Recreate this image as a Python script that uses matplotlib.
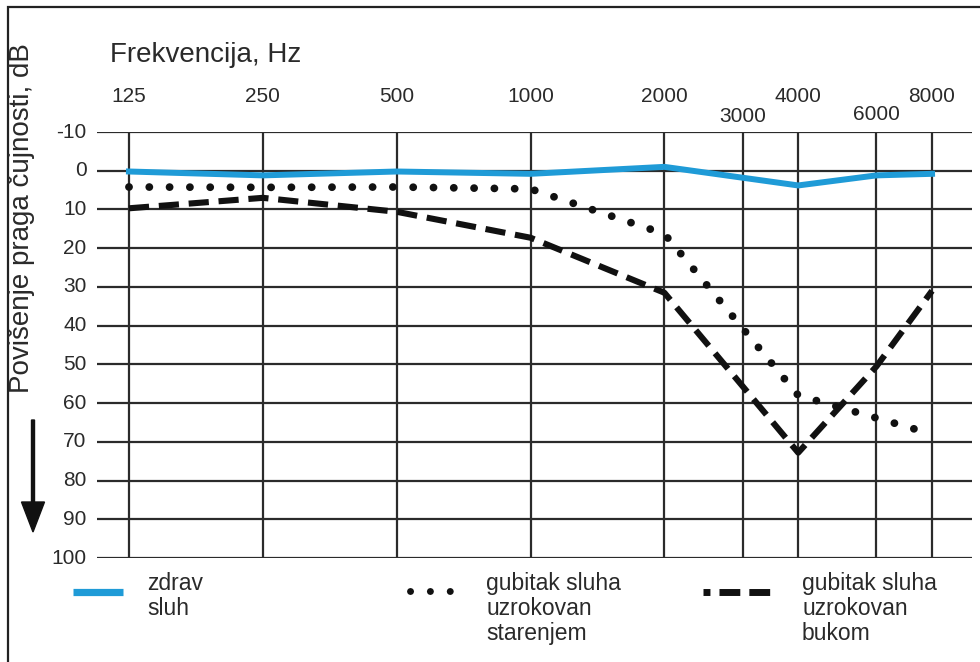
import matplotlib
matplotlib.use("Agg")
import matplotlib.pyplot as plt
from matplotlib.lines import Line2D
from matplotlib.patches import FancyArrow, Rectangle

plt.rcParams['font.family'] = ['Liberation Sans', 'DejaVu Sans']

# ---- data ----
freqs = [125, 250, 500, 1000, 2000, 3000, 4000, 6000, 8000]
freq_labels = ['125', '250', '500', '1000', '2000', '3000', '4000', '6000', '8000']
db_ticks = [-10, 0, 10, 20, 30, 40, 50, 60, 70, 80, 90, 100]

healthy_f = [125, 250, 500, 1000, 2000, 4000, 6000, 8000]
healthy_db = [0.2, 1.2, 0.2, 0.8, -1.0, 3.8, 1.2, 0.8]

aging_f = [125, 250, 500, 1000, 2000, 4000, 8000]
aging_db = [4.2, 4.3, 4.2, 4.7, 16.3, 58.0, 68.0]

noise_f = [125, 250, 500, 1000, 2000, 4000, 6000, 8000]
noise_db = [9.7, 7.0, 10.6, 17.3, 31.5, 72.8, 50.5, 31.0]

legend_labels = ['zdrav\nsluh', 'gubitak sluha\nuzrokovan\nstarenjem', 'gubitak sluha\nuzrokovan\nbukom']

W, H = 980, 662
fig = plt.figure(figsize=(W / 100, H / 100), dpi=100)

def fx(px):
    return px / W

def fy(py):
    return 1 - py / H

# axes: horizontal grid spans px 97..972, vertical 132..558
ax = fig.add_axes([fx(97), fy(558), fx(972) - fx(97), fy(132) - fy(558)])
ax.set_xscale('log', base=2)
oct_px = 134.0
ax.set_xlim(125 * 2 ** (-32 / oct_px), 8000 * 2 ** (40 / oct_px))
ax.set_ylim(100, -10)
for s in ax.spines.values():
    s.set_visible(False)
ax.set_xticks([])
ax.set_yticks([])
ax.minorticks_off()
ax.patch.set_alpha(0)

gridc = '#2b2b2b'
for d in db_ticks:
    ax.axhline(d, color=gridc, lw=1.6, zorder=1)
for f in freqs:
    ax.plot([f, f], [-10, 100], color=gridc, lw=1.6, zorder=1, solid_capstyle='butt')

blue = '#1f9bd7'
ax.plot(healthy_f, healthy_db, color=blue, lw=4.3, zorder=3, solid_joinstyle='miter')
ax.plot(aging_f, aging_db, color='#111111', lw=5.6, linestyle=(0, (0.01, 2.6)),
        dash_capstyle='round', zorder=3)
ax.plot(noise_f, noise_db, color='#111111', lw=4.4, linestyle=(0, (3.3, 1.6)),
        dash_capstyle='butt', zorder=3)

# tick labels
txtc = '#2a2a2a'
fig.canvas.draw()
for f, lab in zip(freqs, freq_labels):
    yp = 117 if lab == '3000' else (115 if lab == '6000' else 97)
    xpix = ax.transData.transform((f, 0))[0]
    fig.text(xpix / fig.bbox.width, fy(yp), lab,
             ha='center', va='center', fontsize=15, color=txtc)
for d in db_ticks:
    ax.text(-0.012, d, str(d), transform=ax.get_yaxis_transform(), ha='right',
            va='center', fontsize=15, color=txtc)

fig.text(fx(110), fy(55), 'Frekvencija, Hz', ha='left', va='center', fontsize=20, color=txtc)
fig.text(fx(22), fy(218), 'Povišenje praga čujnosti, dB', ha='center', va='center',
         rotation=90, fontsize=20, color=txtc)

# arrow
fig.add_artist(FancyArrow(fx(33), fy(420), 0, fy(532) - fy(420), width=fx(3),
                          head_width=fx(23), head_length=(30 / H),
                          length_includes_head=True, color='#111111',
                          transform=fig.transFigure))

# frame
fig.add_artist(Rectangle((fx(8), fy(700)), fx(990), fy(7) - fy(700), fill=False,
                         lw=1.6, edgecolor='#222222', transform=fig.transFigure))

# legend
fig.add_artist(Line2D([fx(73), fx(123)], [fy(592), fy(592)], color=blue, lw=5.2,
                      solid_capstyle='butt', transform=fig.transFigure))
fig.add_artist(Line2D([fx(410), fx(455)], [fy(591), fy(591)], color='#111111', lw=5.0,
                      linestyle=(0, (0.01, 2.85)), dash_capstyle='round',
                      transform=fig.transFigure))
fig.add_artist(Line2D([fx(703), fx(776)], [fy(592), fy(592)], color='#111111', lw=5.0,
                      linestyle=(0, (1.0, 1.3, 3.0, 1.3, 3.0, 1.3, 1.0, 10)),
                      dash_capstyle='butt', transform=fig.transFigure))
for xpos, lab in zip([147, 486, 802], legend_labels):
    fig.text(fx(xpos), fy(572), lab, ha='left', va='top', fontsize=16.5, color=txtc,
             linespacing=1.12)

fig.savefig('out.png', dpi=100, facecolor='white')
